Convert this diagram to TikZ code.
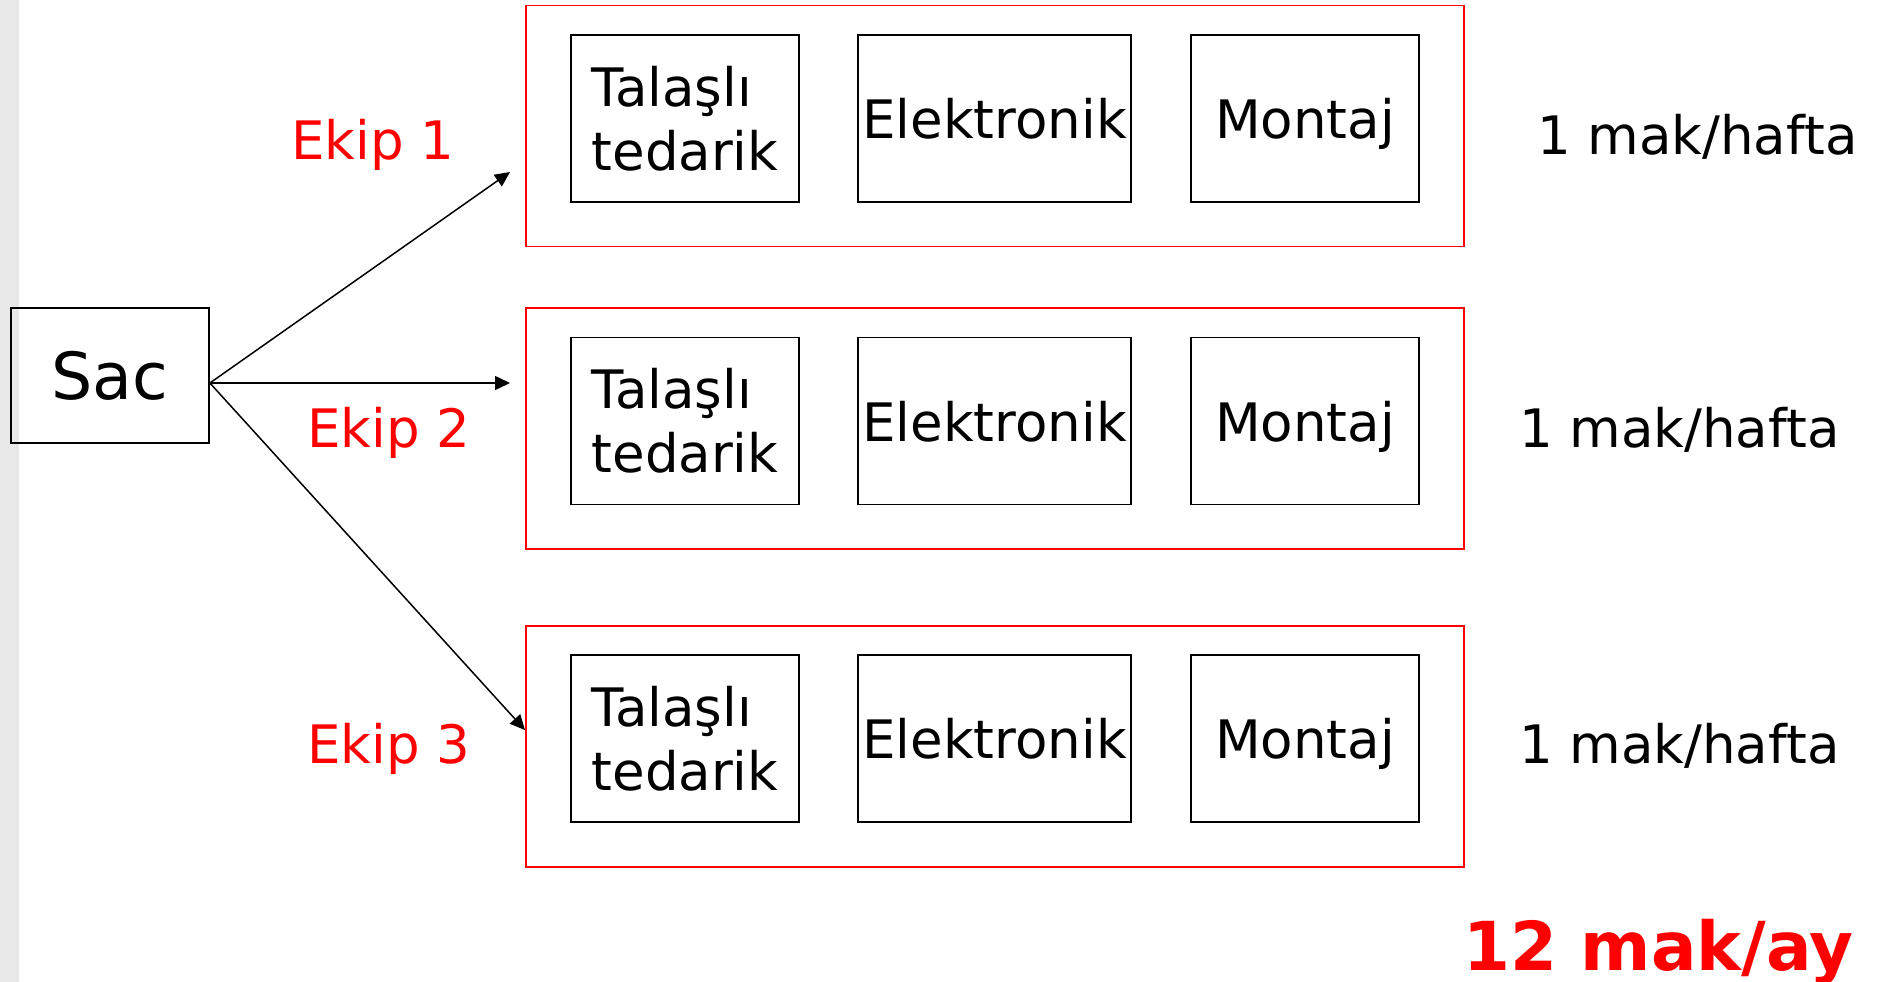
\documentclass[tikz,border=0pt]{standalone}
\usepackage{fontspec}
\setmainfont{DejaVu Sans}
\usetikzlibrary{arrows.meta}
\definecolor{stripegray}{HTML}{E8E8E8}
\tikzset{
        stage/.style = {draw, line width=1.8pt, inner sep=0pt,
                minimum width=228pt, minimum height=167pt,
                font=\fontsize{53}{64}\selectfont},
        team/.style  = {draw=red, line width=1.6pt,
                minimum width=938pt, minimum height=241pt},
        ekip/.style  = {text=red, anchor=base west, inner sep=0pt,
                font=\fontsize{53}{64}\selectfont},
        rate/.style  = {anchor=base west, inner sep=0pt,
                font=\fontsize{53}{64}\selectfont},
        flow/.style  = {-{Triangle[length=15pt,width=14pt]}, line width=1.5pt}
}
\begin{document}
\begin{tikzpicture}[x=1pt, y=-1pt]
        \useasboundingbox (0,0) rectangle (1885,982);
        \fill[stripegray] (0,0) rectangle (19,982);
        \node[draw, line width=1.8pt, minimum width=198pt, minimum height=135pt,
                font=\fontsize{65}{70}\selectfont] (sac) at (110,375.5) {Sac};
        \coordinate (src) at ([yshift=-7.5pt]sac.east);
        \foreach \i/\y/\ex/\ey/\hx/\hy/\tx/\ty in
                {1/126/291/159/1537/154/510/172,
                 2/428.4/307/447/1519/447/510/383,
                 3/746.2/307/763/1519/763/525/730}
        {
                \node[team] (team\i) at (995,\y) {};
                \node[stage, align=left] (talasli\i) at (685,\y-7.5) {Talaşlı\\tedarik};
                \node[stage, minimum width=273pt, text depth=0pt] (elektronik\i) at (994.5,\y-7.5) {Elektronik};
                \node[stage, text depth=0pt] (montaj\i) at (1305,\y-7.5) {Montaj};
                \node[ekip] (ekip\i) at (\ex,\ey) {Ekip \i};
                \node[rate] (hafta\i) at (\hx,\hy) {1 mak/hafta};
                \coordinate (in\i) at (\tx,\ty);
                \draw[flow] (src) -- (in\i);
        }
        \node[rate, text=red, font=\fontsize{67.5}{70}\selectfont\bfseries] (ay) at (1463,970) {12 mak/ay};
\end{tikzpicture}
\end{document}
